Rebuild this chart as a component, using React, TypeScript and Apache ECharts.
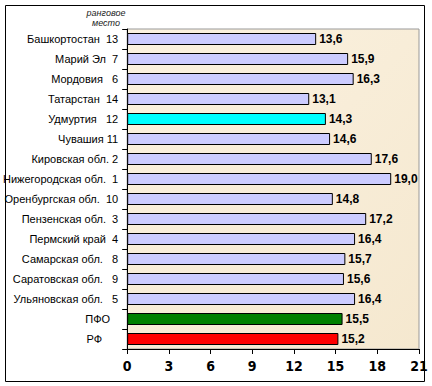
import React, { useEffect, useRef } from "react";
import * as echarts from "echarts";

const categories = [
  "Башкортостан  13",
  "Марий Эл  7",
  "Мордовия   6",
  "Татарстан  14",
  "Удмуртия   12",
  "Чувашия 11",
  "Кировская обл. 2",
  "Нижегородская обл.  1",
  "Оренбургская обл.  10",
  "Пензенская обл.  3",
  "Пермский край  4",
  "Самарская обл.   8",
  "Саратовская обл.   9",
  "Ульяновская обл.   5",
  "ПФО",
  "РФ",
];
const values = [13.6, 15.9, 16.3, 13.1, 14.3, 14.6, 17.6, 19.0, 14.8, 17.2, 16.4, 15.7, 15.6, 16.4, 15.5, 15.2];
const barColors = [
  "#CCCCFF", "#CCCCFF", "#CCCCFF", "#CCCCFF", "#00FFFF", "#CCCCFF", "#CCCCFF", "#CCCCFF",
  "#CCCCFF", "#CCCCFF", "#CCCCFF", "#CCCCFF", "#CCCCFF", "#CCCCFF", "#008000", "#FF0000",
];
const labelPadRight = [0, 0, 0, 0, 0, 0, 0, 0, 0, 0, 0, 0, 0, 0, 8, 16];
const headerLines = ["ранговое", "место"];

export default function App() {
  const ref = useRef<HTMLDivElement>(null);
  useEffect(() => {
    document.body.style.margin = "0";
    const chart = echarts.init(ref.current!, undefined, { renderer: "svg" });
    chart.setOption({
      animation: false,
      backgroundColor: "#ffffff",
      graphic: [
        {
          type: "rect",
          shape: { x: 5.5, y: 5.5, width: 419, height: 376 },
          style: { fill: "none", stroke: "#000", lineWidth: 1 },
          z: -1,
        },
        {
          type: "text",
          x: 106,
          y: 13,
          style: {
            text: headerLines[0],
            font: "italic 9px Arial, 'Liberation Sans', sans-serif",
            fill: "#222",
            align: "center",
            verticalAlign: "middle",
          },
        },
        {
          type: "text",
          x: 106,
          y: 23,
          style: {
            text: headerLines[1],
            font: "italic 9px Arial, 'Liberation Sans', sans-serif",
            fill: "#222",
            align: "center",
            verticalAlign: "middle",
          },
        },
      ],
      grid: {
        left: 127,
        top: 29,
        right: 13,
        bottom: 37,
        show: true,
        backgroundColor: {
          type: "linear",
          x: 0,
          y: 0,
          x2: 1,
          y2: 1,
          colorStops: [
            { offset: 0, color: "#FBF2E0" },
            { offset: 0.5, color: "#F8EDD8" },
            { offset: 1, color: "#F5E8CF" },
          ],
        },
        borderColor: "#999999",
        borderWidth: 1,
      },
      xAxis: {
        type: "value",
        min: 0,
        max: 21,
        interval: 3,
        splitLine: { show: false },
        axisLine: { show: true, lineStyle: { color: "#000", width: 1 } },
        axisTick: { show: true, length: 5, lineStyle: { color: "#000" } },
        axisLabel: {
          margin: 10,
          color: "#000",
          fontSize: 14,
          fontWeight: "bold",
          fontFamily: "'Liberation Sans Narrow', 'Arial Narrow', 'DejaVu Sans Condensed', sans-serif",
        },
      },
      yAxis: {
        type: "category",
        inverse: true,
        data: categories.map((c, i) => ({
          value: c,
          textStyle: { padding: [0, labelPadRight[i], 0, 0] },
        })),
        axisLine: { show: true, lineStyle: { color: "#000", width: 1 } },
        axisTick: { show: true, length: 5, alignWithLabel: false, lineStyle: { color: "#000" } },
        axisLabel: {
          margin: 9,
          color: "#000",
          fontSize: 11,
          fontFamily: "Arial, 'Liberation Sans', sans-serif",
        },
      },
      series: [
        {
          type: "bar",
          barWidth: 12,
          data: values.map((v, i) => ({
            value: v,
            itemStyle: { color: barColors[i], borderColor: "#000", borderWidth: 1 },
          })),
          label: {
            show: true,
            position: "right",
            distance: 3,
            color: "#000",
            fontSize: 12,
            fontWeight: "bold",
            fontFamily: "Arial, 'Liberation Sans', sans-serif",
            formatter: (p: any) => p.value.toFixed(1).replace(".", ","),
          },
        },
      ],
    });
    return () => chart.dispose();
  }, []);
  return <div ref={ref} style={{ width: 432, height: 386 }} />;
}
